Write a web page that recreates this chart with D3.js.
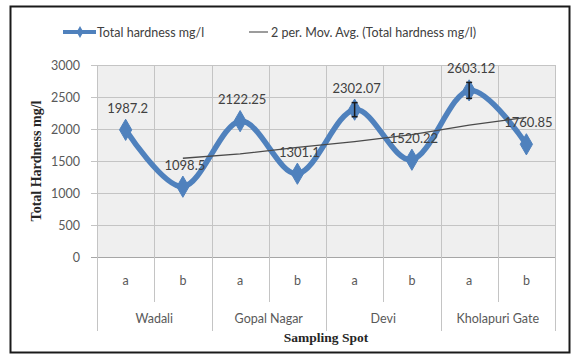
<!DOCTYPE html>
<html>
<head>
<meta charset="utf-8">
<script src="https://cdn.jsdelivr.net/npm/d3@7"></script>
<style>
html,body{margin:0;padding:0;background:#fff;}
svg{display:block;}
</style>
</head>
<body>
<svg id="chart" width="578" height="359"></svg>
<script>
const subCategories = ["a","b","a","b","a","b","a","b"];
const groups = ["Wadali","Gopal Nagar","Devi","Kholapuri Gate"];
const hardness = [1987.2, 1098.5, 2122.25, 1301.1, 2302.07, 1520.22, 2603.12, 1760.85];
const hardnessLabels = ["1987.2","1098.5","2122.25","1301.1","2302.07","1520.22","2603.12","1760.85"];
const errors = [0, 0, 0, 0, 110, 0, 125, 0];
const movAvg = [null, 1542.85, 1610.38, 1711.68, 1801.59, 1911.15, 2061.67, 2181.99];
const yTicks = [0, 500, 1000, 1500, 2000, 2500, 3000];
const seriesNames = ["Total hardness mg/l", "2 per. Mov. Avg. (Total hardness mg/l)"];

const svg = d3.select("#chart");
const font = "Lato, 'Open Sans', sans-serif";
const blue = "#4F81BD";

// frame
svg.append("rect").attr("x",10.5).attr("y",6.5).attr("width",559).attr("height",346)
  .attr("fill","#fff").attr("stroke","#1a1a1a").attr("stroke-width",2);

const x0 = 97, x1 = 555, yTop = 65, yBot = 257;
const x = d3.scaleBand().domain(d3.range(hardness.length)).range([x0, x1]).padding(0);
const y = d3.scaleLinear().domain([0, 3000]).range([yBot, yTop]);
const cx = i => x(i) + x.bandwidth()/2;

// plot area
svg.append("rect").attr("x",x0).attr("y",yTop).attr("width",x1-x0).attr("height",yBot-yTop).attr("fill","#efefef");

// horizontal gridlines + ticks
svg.append("g").selectAll("line").data(yTicks).join("line")
  .attr("x1",x0-6).attr("x2",x1).attr("y1",d=>Math.round(y(d))+0.5).attr("y2",d=>Math.round(y(d))+0.5)
  .attr("stroke",d=>d===0?"#a6a6a6":"#c4c4c4").attr("stroke-width",1);
// vertical gridlines
svg.append("g").selectAll("line").data(d3.range(hardness.length+1)).join("line")
  .attr("x1",i=>Math.round(i<hardness.length?x(i):x1)+0.5).attr("x2",i=>Math.round(i<hardness.length?x(i):x1)+0.5)
  .attr("y1",yTop).attr("y2",yBot).attr("stroke","#c4c4c4");

// y tick labels
svg.append("g").selectAll("text").data(yTicks).join("text")
  .attr("x",80).attr("y",d=>y(d)+4.5).attr("text-anchor","end")
  .attr("font-family",font).attr("font-size",12.5).attr("fill","#595959").text(d=>d);

// x axis multi-level separators
const sep = svg.append("g").attr("stroke","#c4c4c4");
for (let i = 0; i <= hardness.length; i++) {
  const xx = Math.round(i<hardness.length?x(i):x1)+0.5;
  const long = i % 2 === 0;
  sep.append("line").attr("x1",xx).attr("x2",xx).attr("y1",yBot).attr("y2",long?331:302);
}
svg.append("g").selectAll("text").data(subCategories).join("text")
  .attr("x",(d,i)=>cx(i)).attr("y",285).attr("text-anchor","middle")
  .attr("font-family",font).attr("font-size",12.5).attr("fill","#595959").text(d=>d);
svg.append("g").selectAll("text").data(groups).join("text")
  .attr("x",(d,i)=>(x(2*i)+ (2*i+2<hardness.length?x(2*i+2):x1))/2).attr("y",323).attr("text-anchor","middle")
  .attr("font-family",font).attr("font-size",12.5).attr("fill","#595959").text(d=>d);

// axis titles
svg.append("text").attr("x",(x0+x1)/2).attr("y",342).attr("text-anchor","middle")
  .attr("font-family","'Liberation Serif', 'Times New Roman', serif").attr("font-weight","bold")
  .attr("font-size",13.5).attr("fill","#262626").text("Sampling Spot");
svg.append("text").attr("transform",`translate(41,${(yTop+yBot)/2}) rotate(-90)`).attr("text-anchor","middle")
  .attr("font-family","'Liberation Serif', 'Times New Roman', serif").attr("font-weight","bold")
  .attr("font-size",14).attr("fill","#262626").text("Total Hardness mg/l");

// main smoothed line
const line = d3.line().x((d,i)=>cx(i)).y(d=>y(d)).curve(d3.curveCardinal.tension(0));
svg.append("path").datum(hardness).attr("d",line).attr("fill","none")
  .attr("stroke",blue).attr("stroke-width",5.5).attr("stroke-linejoin","round").attr("stroke-linecap","round");

// markers
const diamond = d3.symbol().type(d3.symbolDiamond).size(130);
svg.append("g").selectAll("path").data(hardness).join("path")
  .attr("transform",(d,i)=>`translate(${cx(i)},${y(d)})`).attr("d",diamond)
  .attr("fill",blue).attr("stroke",blue);

// error bars
const eb = svg.append("g").attr("stroke","#1a1a1a").attr("stroke-width",1.5);
hardness.forEach((d,i)=>{
  const e = errors[i];
  if (!e) return;
  eb.append("line").attr("x1",cx(i)).attr("x2",cx(i)).attr("y1",y(d+e)).attr("y2",y(d-e));
  eb.append("line").attr("x1",cx(i)-3).attr("x2",cx(i)+3).attr("y1",y(d+e)).attr("y2",y(d+e));
  eb.append("line").attr("x1",cx(i)-3).attr("x2",cx(i)+3).attr("y1",y(d-e)).attr("y2",y(d-e));
});

// data labels
svg.append("g").selectAll("text").data(hardness).join("text")
  .attr("x",(d,i)=>cx(i)+2).attr("y",d=>y(d)-17).attr("text-anchor","middle")
  .attr("font-family",font).attr("font-size",13).attr("fill","#404040")
  .text((d,i)=>hardnessLabels[i]);

// moving average line
const maLine = d3.line().defined(d=>d!==null).x((d,i)=>cx(i)).y(d=>y(d));
svg.append("path").datum(movAvg).attr("d",maLine).attr("fill","none")
  .attr("stroke","#4a4a4a").attr("stroke-width",1.3);

// legend
const lg = svg.append("g");
lg.append("line").attr("x1",63).attr("x2",96).attr("y1",32).attr("y2",32).attr("stroke",blue).attr("stroke-width",4);
lg.append("path").attr("transform","translate(80,32)").attr("d",d3.symbol().type(d3.symbolDiamond).size(40)).attr("fill",blue);
lg.append("text").attr("x",97).attr("y",36.5).attr("font-family",font).attr("font-size",12.5).attr("fill","#404040").text(seriesNames[0]);
lg.append("line").attr("x1",249).attr("x2",268).attr("y1",32).attr("y2",32).attr("stroke","#666").attr("stroke-width",1.3);
lg.append("text").attr("x",271).attr("y",36.5).attr("font-family",font).attr("font-size",12.5).attr("fill","#404040").text(seriesNames[1]);
</script>
</body>
</html>
